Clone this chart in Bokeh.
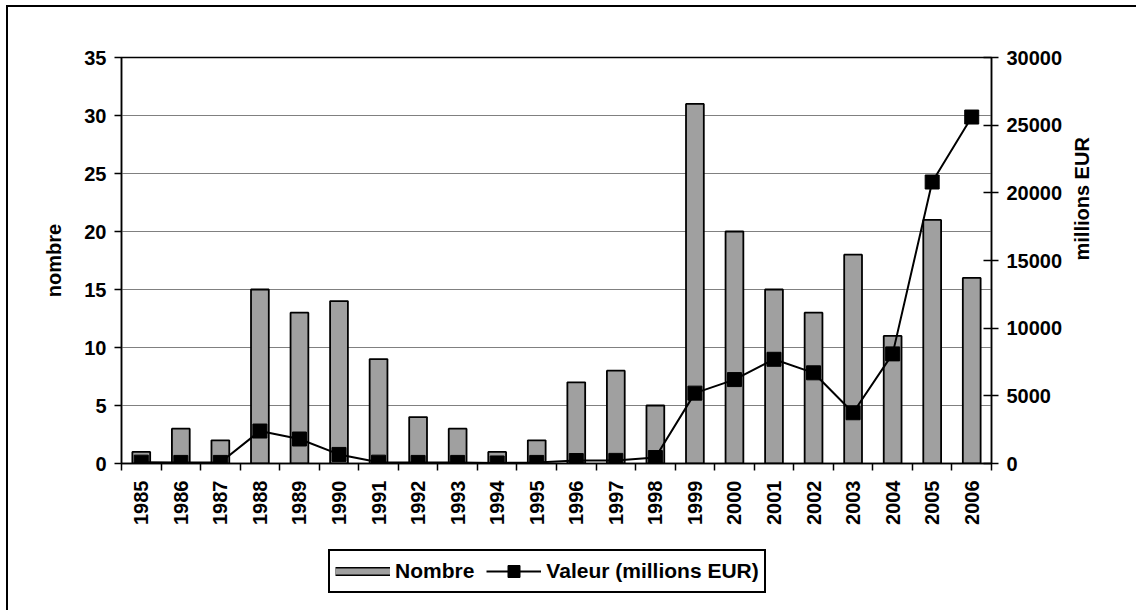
import math

from bokeh.embed import file_html
from bokeh.layouts import column
from bokeh.models import (ColumnDataSource, CustomJSTickFormatter, FixedTicker, Legend,
                          LegendItem, LinearAxis, Range1d, SingleIntervalTicker)
from bokeh.plotting import figure
from bokeh.resources import INLINE

# Operations per year: count (left axis) and value in millions EUR (right axis)
years = ["1985", "1986", "1987", "1988", "1989", "1990", "1991", "1992", "1993", "1994", "1995",
         "1996", "1997", "1998", "1999", "2000", "2001", "2002", "2003", "2004", "2005", "2006"]
nombre = [1, 3, 2, 15, 13, 14, 9, 4, 3, 1, 2, 7, 8, 5, 31, 20, 15, 13, 18, 11, 21, 16]
valeur = [100, 80, 80, 2400, 1810, 670, 100, 80, 80, 40, 80, 220, 230, 440,
          5200, 6200, 7700, 6700, 3750, 8100, 20800, 25600]

FONT = "Liberation Sans"
GREY = "#a0a0a0"
TXT = "20px"

# one unit per year slot, each year centred in its slot
slot = list(range(len(years) + 1))
centre = [i + 0.5 for i in range(len(years))]

src = ColumnDataSource(data=dict(x=centre, year=years, nombre=nombre, valeur=valeur))

p = figure(
    x_range=Range1d(0, len(years)),
    y_range=Range1d(0, 35),
    width=1128, height=528,
    min_border_left=113, min_border_right=145, min_border_top=50, min_border_bottom=72,
    x_axis_location=None,
    output_backend="svg", toolbar_location=None,
)
p.outline_line_color = "black"
p.outline_line_width = 1.5
p.extra_y_ranges = {"valeur": Range1d(0, 30000)}

text_style = dict(
    major_label_text_font=FONT, major_label_text_font_style="bold",
    major_label_text_font_size=TXT, major_label_text_color="black",
)
label_style = dict(
    axis_label_text_font=FONT, axis_label_text_font_style="bold",
    axis_label_text_font_size=TXT, axis_label_text_color="black",
)

# left axis: nombre
left_ticker = SingleIntervalTicker(interval=5, num_minor_ticks=0)
ya = p.yaxis[0]
ya.ticker = left_ticker
ya.axis_label = "nombre"
ya.axis_label_standoff = 16
ya.update(**text_style, **label_style)
ya.major_label_standoff = 8
ya.major_tick_out = 7
ya.major_tick_in = 0
ya.major_tick_line_width = 1.5
ya.axis_line_width = 1.5
ya.minor_tick_line_color = None

p.ygrid.ticker = left_ticker
p.ygrid.grid_line_color = "#808080"
p.ygrid.grid_line_width = 1
p.xgrid.grid_line_color = None

# right axis: value in millions EUR
ra = LinearAxis(
    y_range_name="valeur",
    ticker=SingleIntervalTicker(interval=5000, num_minor_ticks=0),
    major_label_standoff=8,
    major_tick_in=8, major_tick_out=7, major_tick_line_width=1.5,
    axis_line_width=1.5, minor_tick_line_color=None,
    **text_style,
)
p.add_layout(ra, "right")

# title of the right axis, read bottom to top, starting a little below mid-height
ra_title = LinearAxis(
    y_range_name="valeur",
    bounds=(0, 20100),
    ticker=FixedTicker(ticks=[]),
    axis_line_color=None, major_tick_line_color=None, minor_tick_line_color=None,
    major_tick_out=0, major_tick_in=0, major_label_standoff=0,
    axis_label="millions EUR",
    axis_label_orientation=math.pi / 2,
    axis_label_standoff=16,
    **label_style,
)
p.add_layout(ra_title, "right")

# bottom: year labels at slot centres, tick marks on the slot edges
year_axis = LinearAxis(
    ticker=FixedTicker(ticks=centre, minor_ticks=slot),
    formatter=CustomJSTickFormatter(args=dict(years=years),
                                    code="return years[Math.floor(tick)]"),
    axis_line_width=1.5,
    major_tick_line_color=None, major_tick_out=7, major_tick_in=0,
    minor_tick_line_color="black", minor_tick_line_width=1.5,
    minor_tick_out=7, minor_tick_in=0,
    major_label_orientation=math.pi / 2,
    major_label_standoff=10,
    **text_style,
)
p.add_layout(year_axis, "below")

# bars and line
p.vbar(x="x", top="nombre", width=0.45, source=src,
       fill_color=GREY, line_color="black", line_width=1.8)
p.line(x="x", y="valeur", source=src, y_range_name="valeur",
       line_color="black", line_width=2)
p.scatter(x="x", y="valeur", source=src, y_range_name="valeur",
          marker="square", size=14, fill_color="black", line_color="black")

# legend strip underneath the chart; the swatch renderers sit outside its visible range
leg = figure(
    x_range=Range1d(0, 1), y_range=Range1d(0, 1),
    width=1128, height=75,
    min_border=0, x_axis_location=None, y_axis_location=None,
    output_backend="svg", toolbar_location=None,
)
leg.outline_line_color = None
leg.grid.grid_line_color = None

off = dict(x=[5, 6], y=[5, 5])
sw_edge = leg.line(**off, line_color="black", line_width=9)
sw_fill = leg.line(**off, line_color=GREY, line_width=6)
sw_line = leg.line(**off, line_color="black", line_width=2)
sw_mark = leg.scatter(**off, marker="square", fill_color="black", line_color="black")

legend = Legend(
    items=[LegendItem(label="Nombre", renderers=[sw_edge, sw_fill], index=0),
           LegendItem(label="Valeur (millions EUR)", renderers=[sw_line, sw_mark], index=0)],
    orientation="horizontal",
    location=(207, 17),
    glyph_width=55, glyph_height=30,
    label_text_font=FONT, label_text_font_style="bold", label_text_font_size="21px",
    label_text_color="black",
    label_standoff=5, spacing=12, padding=5, margin=0,
    border_line_color="black", border_line_width=2, border_line_alpha=1,
)
leg.add_layout(legend)

page = column(p, leg, spacing=0,
              styles={"margin-left": "6px", "margin-top": "5px",
                      "border-left": "2px solid black", "border-top": "2px solid black"})

open("out.html", "w").write(file_html(page, INLINE))
